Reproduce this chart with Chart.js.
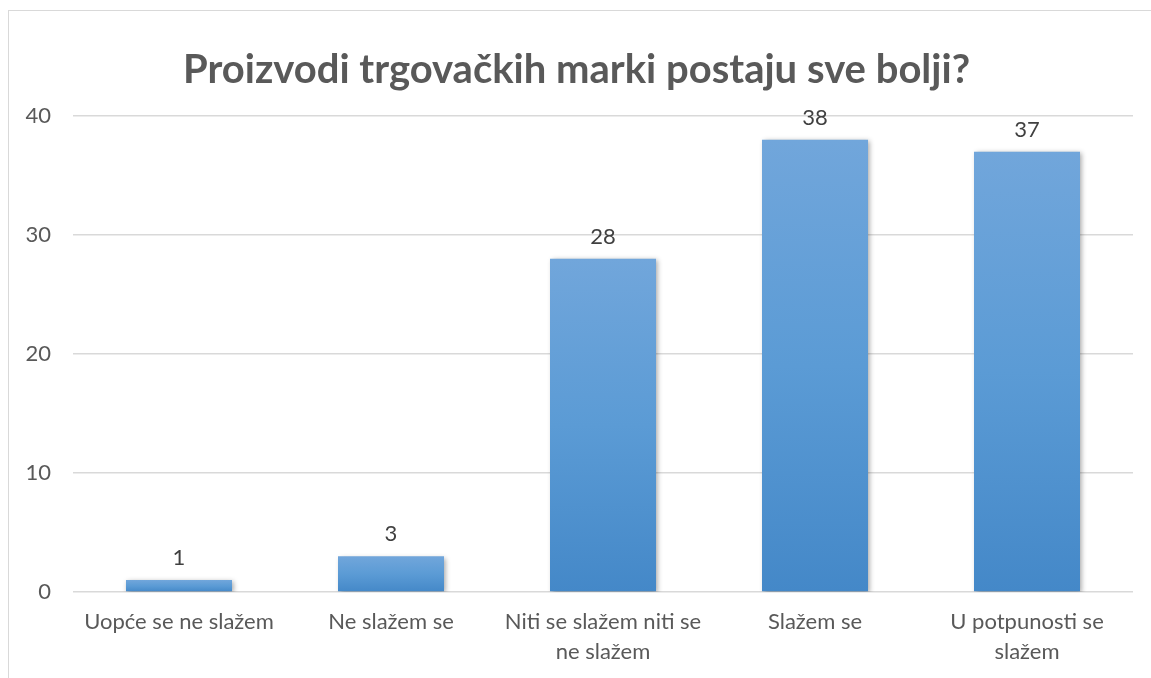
<!DOCTYPE html>
<html>
<head>
<meta charset="utf-8">
<script src="https://cdn.jsdelivr.net/npm/chart.js@4/dist/chart.umd.min.js"></script>
<style>
html,body{margin:0;padding:0;background:#fff;}
#wrap{position:relative;width:1151px;height:678px;}
#box{position:absolute;left:8px;top:10px;width:1160px;height:700px;border:1.5px solid #d9d9d9;box-sizing:border-box;}
canvas{position:absolute;left:0;top:0;}
</style>
</head>
<body>
<div id="wrap"><div id="box"></div><canvas id="c" width="1151" height="678"></canvas></div>
<script>
const titleText = 'Proizvodi trgovačkih marki postaju sve bolji?';
const categories = [
  'Uopće se ne slažem',
  'Ne slažem se',
  ['Niti se slažem niti se', 'ne slažem'],
  'Slažem se',
  ['U potpunosti se', 'slažem']
];
const values = [1, 3, 28, 38, 37];
const yTicks = [0, 10, 20, 30, 40];

const FONT = 'Lato, "Open Sans", sans-serif';

function barGradient(context) {
  const chart = context.chart;
  const y = chart.scales && chart.scales.y;
  if (!y || context.parsed === undefined) return '#5b9bd5';
  const top = y.getPixelForValue(context.parsed.y);
  const bot = y.getPixelForValue(0);
  if (!isFinite(top) || !isFinite(bot) || top === bot) return '#5b9bd5';
  const g = chart.ctx.createLinearGradient(0, top, 0, bot);
  g.addColorStop(0, '#71a6db');
  g.addColorStop(0.5, '#5b9bd5');
  g.addColorStop(1, '#4488c8');
  return g;
}

const shadowPlugin = {
  id: 'shadow',
  beforeDatasetDraw(chart) {
    const ctx = chart.ctx;
    ctx.save();
    ctx.shadowColor = 'rgba(0,0,0,0.35)';
    ctx.shadowBlur = 5;
    ctx.shadowOffsetX = 1.5;
    ctx.shadowOffsetY = 1.5;
  },
  afterDatasetDraw(chart) {
    chart.ctx.restore();
  }
};

const labelPlugin = {
  id: 'valueLabels',
  afterDatasetsDraw(chart) {
    const ctx = chart.ctx;
    const meta = chart.getDatasetMeta(0);
    ctx.save();
    ctx.font = '22px ' + FONT;
    ctx.fillStyle = '#404040';
    ctx.textAlign = 'center';
    ctx.textBaseline = 'bottom';
    meta.data.forEach((bar, i) => {
      ctx.fillText(String(values[i]), bar.x, bar.y - 11);
    });
    ctx.restore();
  }
};

new Chart(document.getElementById('c'), {
  type: 'bar',
  data: {
    labels: categories,
    datasets: [{
      data: values,
      backgroundColor: barGradient,
      borderWidth: 0,
      categoryPercentage: 1,
      barPercentage: 0.5
    }]
  },
  options: {
    responsive: false,
    animation: false,
    devicePixelRatio: 1,
    layout: { padding: { left: 20, right: 18, top: 0, bottom: 0 } },
    plugins: {
      legend: { display: false },
      tooltip: { enabled: false },
      title: {
        display: true,
        text: titleText,
        color: '#595959',
        font: { family: FONT, size: 40, weight: 'bold', lineHeight: 1.2 },
        padding: { top: 46, bottom: 22 }
      }
    },
    scales: {
      x: {
        grid: { display: false, drawTicks: false },
        border: { display: false },
        ticks: {
          color: '#595959',
          font: { family: FONT, size: 22, lineHeight: 30 / 22 },
          padding: 15,
          maxRotation: 0,
          autoSkip: false
        },
        afterFit(scale) { scale.height = 86; }
      },
      y: {
        min: 0,
        max: 40,
        afterBuildTicks(scale) { scale.ticks = yTicks.map(v => ({ value: v })); },
        grid: { color: '#d9d9d9', lineWidth: 1.5, drawTicks: false },
        border: { display: false },
        ticks: {
          color: '#595959',
          font: { family: FONT, size: 22 },
          padding: 22
        },
        afterFit(scale) { scale.width = 53; }
      }
    }
  },
  plugins: [shadowPlugin, labelPlugin]
});
</script>
</body>
</html>
